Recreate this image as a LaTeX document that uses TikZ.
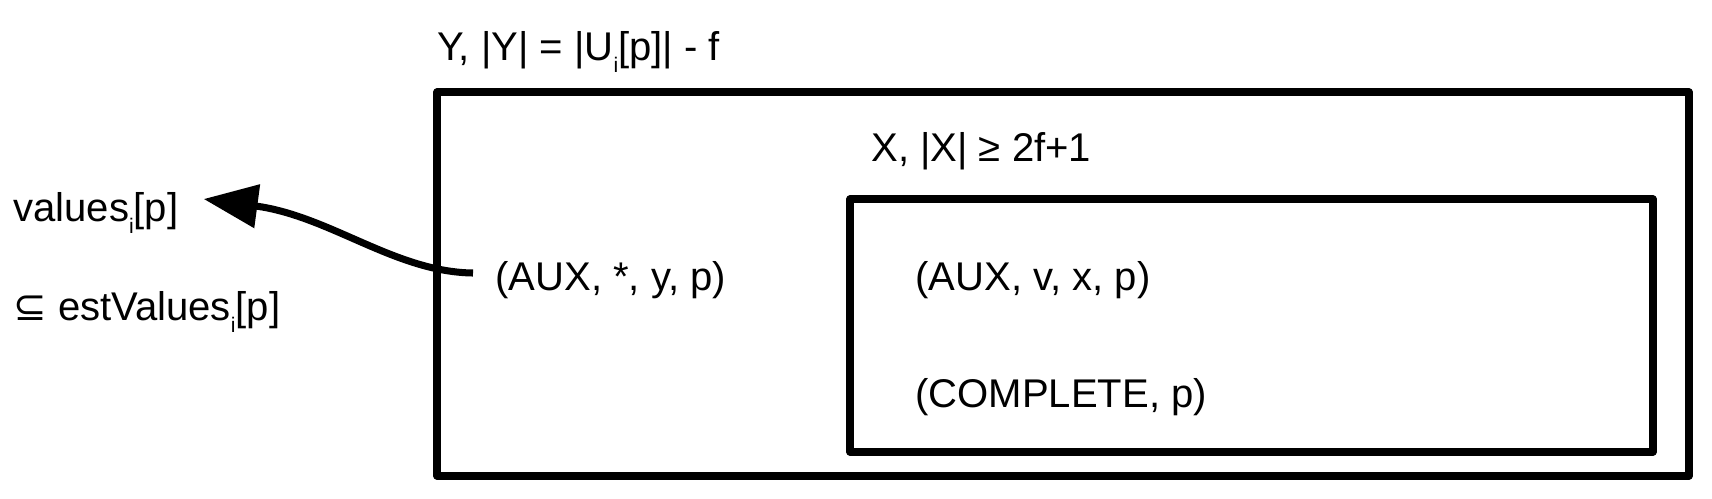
\documentclass[tikz,border=0pt]{standalone}
\usepackage{fontspec}
\setmainfont{Liberation Sans}
\newfontfamily\symfont{DejaVu Sans}
\usetikzlibrary{arrows.meta}
\newcommand{\sbi}{\raisebox{-0.3em}{\fontsize{12}{12}\selectfont i}}
\begin{document}
\begin{tikzpicture}[x=0.02cm,y=-0.02cm,
  box/.style={line width=4pt, line join=round},
  lbl/.style={anchor=base west, inner sep=0pt, font=\fontsize{22.8}{27}\selectfont},
  arr/.style={line width=4pt, -{Triangle[length=1.08cm,width=0.85cm]}}]
\useasboundingbox (0,0) rectangle (1712,498);
\draw[box] (437,92) rectangle (1689,476);
\draw[box] (850,199) rectangle (1653,452);
\node[lbl] (ylab) at (437,60) {Y, |Y| = |U\sbi[p]| - f};
\node[lbl] (xlab) at (871,161) {X, |X| ≥ 2f+1};
\node[lbl] (auxv) at (915,290) {(AUX, v, x, p)};
\node[lbl] (comp) at (915,407) {(COMPLETE, p)};
\node[lbl] (auxs) at (495,290) {(AUX, *, y, p)};
\node[lbl] (vals) at (13,221) {values\sbi[p]};
\node[lbl] (est) at (13,320) {{\symfont ⊆} estValues\sbi[p]};
\coordinate (s) at ([xshift=-0.44cm,yshift=0.34cm]auxs.base west);
\coordinate (t) at ([xshift=0.5cm,yshift=0.44cm]vals.base east);
\draw[arr] (s) .. controls (395,272) and (330,216) .. (t);
\end{tikzpicture}
\end{document}
